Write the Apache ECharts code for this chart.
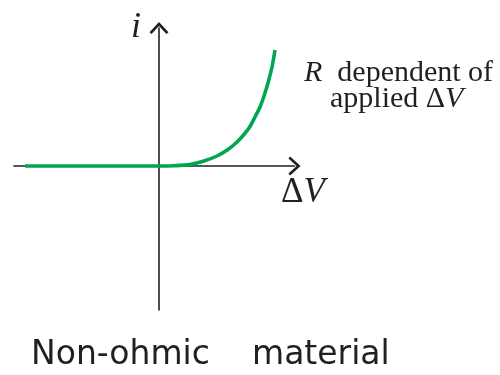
<!DOCTYPE html>
<html>
<head>
<meta charset="utf-8">
<script src="https://cdn.jsdelivr.net/npm/echarts@6/dist/echarts.min.js"></script>
<style>
html, body { margin: 0; padding: 0; background: #fff; }
#chart { width: 500px; height: 375px; }
</style>
</head>
<body>
<div id="chart"></div>
<script>
// applied voltage (arbitrary units) and current
var deltaV = [-13.4, -6, 0, 1.5, 3.1, 4.5, 5.8, 6.9, 7.8, 8.5, 9.1, 9.6, 10.1, 10.5, 10.9, 11.3, 11.6];
var current = [0, 0, 0, 0.03, 0.15, 0.5, 1.0, 1.65, 2.4, 3.15, 3.95, 4.9, 5.9, 7.0, 8.3, 9.9, 11.6];

var curveData = [];
for (var k = 0; k < deltaV.length; k++) {
	curveData.push([deltaV[k], current[k]]);
}

// open chevron arrow head, pointing "up" in symbol space
var chevron = 'path://M0,11 L10,0 L20,11 L17.8,12.8 L10,4.2 L2.2,12.8 Z';

var chart = echarts.init(document.getElementById('chart'));

var option = {
	animation: false,
	grid: {
		left: 14,
		right: 205.5,
		top: 28,
		bottom: 65
	},
	xAxis: {
		type: 'value',
		min: -14.5,
		max: 13.55,
		axisLine: {
			onZero: true,
			symbol: ['none', chevron],
			symbolSize: [19, 13],
			symbolOffset: [0, 0],
			lineStyle: { color: '#231f20', width: 1.6 }
		},
		axisTick: { show: false },
		axisLabel: { show: false },
		splitLine: { show: false }
	},
	yAxis: {
		type: 'value',
		min: -14.4,
		max: 13.8,
		axisLine: {
			onZero: true,
			symbol: ['none', chevron],
			symbolSize: [19, 13],
			symbolOffset: [0, 0],
			lineStyle: { color: '#231f20', width: 1.6 }
		},
		axisTick: { show: false },
		axisLabel: { show: false },
		splitLine: { show: false }
	},
	graphic: [
		{
			type: 'text',
			left: 131,
			top: 10,
			style: {
				text: 'i',
				font: 'italic 36px "Liberation Serif"',
				fill: '#231f20'
			}
		},
		{
			type: 'text',
			left: 281,
			top: 175,
			style: {
				text: '{a|Δ}{b|V}',
				rich: {
					a: { font: '35px "Liberation Serif"', fill: '#231f20' },
					b: { font: 'italic 35px "Liberation Serif"', fill: '#231f20' }
				}
			}
		},
		{
			type: 'text',
			left: 304,
			top: 58,
			style: {
				text: '{i|R}{n|  dependent of}',
				rich: {
					i: { font: 'italic 30px "Liberation Serif"', fill: '#231f20' },
					n: { font: '30px "Liberation Serif"', fill: '#231f20' }
				}
			}
		},
		{
			type: 'text',
			left: 330,
			top: 84,
			style: {
				text: '{n|applied Δ}{i|V}',
				rich: {
					i: { font: 'italic 30px "Liberation Serif"', fill: '#231f20' },
					n: { font: '30px "Liberation Serif"', fill: '#231f20' }
				}
			}
		},
		{
			type: 'text',
			left: 31,
			top: 339,
			style: {
				text: 'Non-ohmic',
				font: '33px "DejaVu Sans"',
				fill: '#231f20'
			}
		},
		{
			type: 'text',
			left: 252,
			top: 339,
			style: {
				text: 'material',
				font: '33px "DejaVu Sans"',
				fill: '#231f20'
			}
		}
	],
	series: [
		{
			type: 'line',
			data: curveData,
			smooth: 0.3,
			showSymbol: false,
			lineStyle: { color: '#00a650', width: 3.6 }
		}
	]
};
chart.setOption(option);
</script>
</body>
</html>
